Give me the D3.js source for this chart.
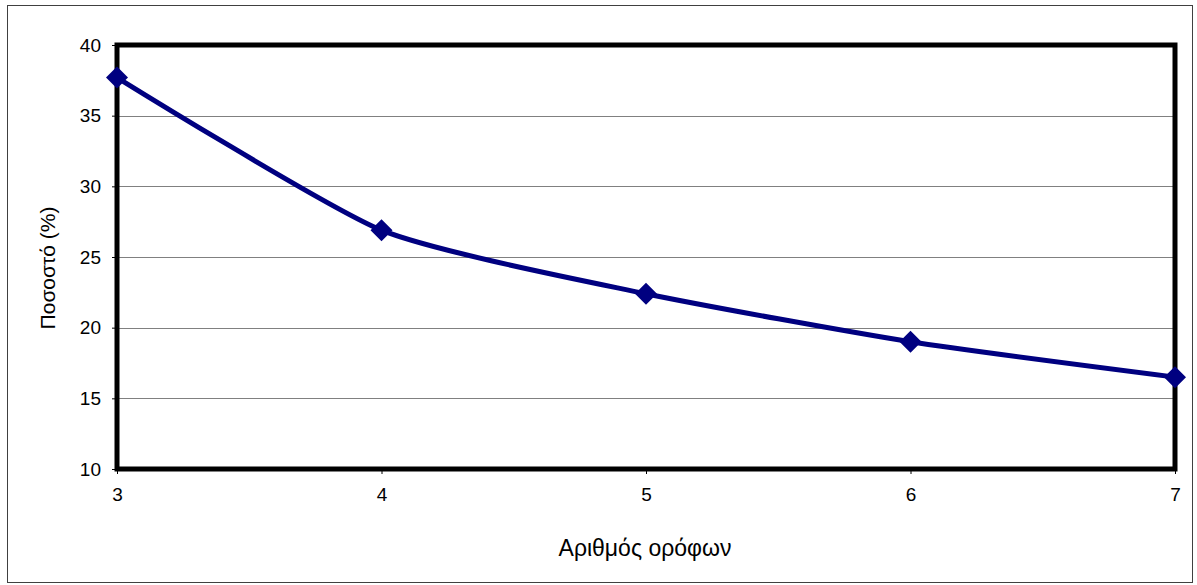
<!DOCTYPE html>
<html>
<head>
<meta charset="utf-8">
<script src="https://cdn.jsdelivr.net/npm/d3@7"></script>
<style>
  body { margin: 0; background: #fff; }
  svg text { font-family: "Liberation Sans", Arial, sans-serif; fill: #000; }
</style>
</head>
<body>
<div id="chart"></div>
<script>
// Data
var floors = [3, 4, 5, 6, 7];
var percent = [37.7, 26.9, 22.4, 19.0, 16.5];
var yTicks = [10, 15, 20, 25, 30, 35, 40];
var xTitle = "Αριθμός ορόφων";
var yTitle = "Ποσοστό (%)";

var W = 1197, H = 585;
var margin = {top: 45, right: 22, bottom: 116, left: 117},
    width = W - margin.left - margin.right,
    height = H - margin.top - margin.bottom;

var svg = d3.select("#chart").append("svg")
    .attr("width", W)
    .attr("height", H);

// outer frame
svg.append("rect")
    .attr("x", 7.5).attr("y", 5.5)
    .attr("width", W - 12).attr("height", H - 8)
    .attr("fill", "none")
    .attr("stroke", "#404040")
    .attr("stroke-width", 1);

var g = svg.append("g")
    .attr("transform", "translate(" + margin.left + "," + margin.top + ")");

var x = d3.scaleLinear().domain([3, 7]).range([0, width]);
var y = d3.scaleLinear().domain([10, 40]).range([height, 0]);

// gridlines
g.selectAll(".grid")
    .data(yTicks.filter(function(d) { return d > 10 && d < 40; }))
  .enter().append("line")
    .attr("x1", 0).attr("x2", width)
    .attr("y1", function(d) { return Math.round(y(d)) + 0.5; })
    .attr("y2", function(d) { return Math.round(y(d)) + 0.5; })
    .attr("stroke", "#808080")
    .attr("stroke-width", 1);

// Y axis
var yAxis = g.append("g")
    .call(d3.axisLeft(y).tickValues(yTicks).tickSize(5).tickPadding(11));
yAxis.select(".domain").remove();
yAxis.selectAll("text").style("font-size", "19px");

// X axis
var xAxis = g.append("g")
    .attr("transform", "translate(0," + height + ")")
    .call(d3.axisBottom(x).tickValues(floors).tickFormat(d3.format("d")).tickSize(5).tickPadding(14));
xAxis.select(".domain").remove();
xAxis.selectAll("text").style("font-size", "19px");

// plot border
g.append("rect")
    .attr("x", 0).attr("y", 0)
    .attr("width", width).attr("height", height)
    .attr("fill", "none")
    .attr("stroke", "#000")
    .attr("stroke-width", 5);

// line
var line = d3.line()
    .x(function(d, i) { return x(floors[i]); })
    .y(function(d) { return y(d); })
    .curve(d3.curveCardinal.tension(0.4));

g.append("path")
    .datum(percent)
    .attr("d", line)
    .attr("fill", "none")
    .attr("stroke", "#000080")
    .attr("stroke-width", 5);

// diamond markers
g.selectAll(".pt")
    .data(percent)
  .enter().append("path")
    .attr("transform", function(d, i) { return "translate(" + x(floors[i]) + "," + y(d) + ")"; })
    .attr("d", "M0,-11L11,0L0,11L-11,0Z")
    .attr("fill", "#000080");

// axis titles
svg.append("text")
    .attr("x", 645)
    .attr("y", 556)
    .attr("text-anchor", "middle")
    .style("font-size", "23px")
    .text(xTitle);

svg.append("text")
    .attr("transform", "translate(55,268) rotate(-90)")
    .attr("text-anchor", "middle")
    .style("font-size", "21px")
    .text(yTitle);
</script>
</body>
</html>
